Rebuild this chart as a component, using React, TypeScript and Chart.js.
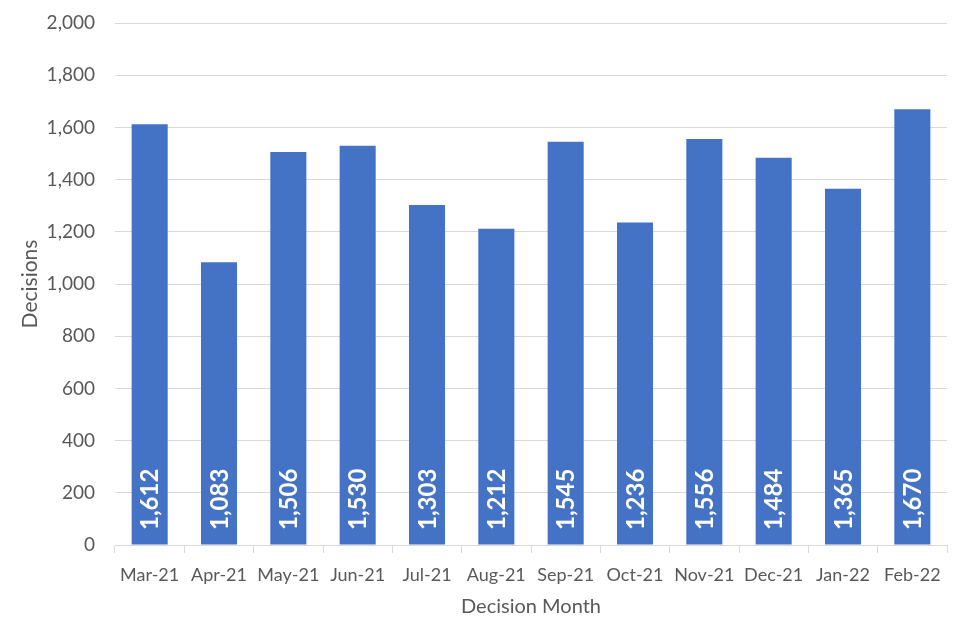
import React, { useEffect, useRef } from "react";
import { Chart, registerables } from "chart.js";

Chart.register(...registerables);

const months = ["Mar-21", "Apr-21", "May-21", "Jun-21", "Jul-21", "Aug-21", "Sep-21", "Oct-21", "Nov-21", "Dec-21", "Jan-22", "Feb-22"];
const decisions = [1612, 1083, 1506, 1530, 1303, 1212, 1545, 1236, 1556, 1484, 1365, 1670];
const yTicks = [0, 200, 400, 600, 800, 1000, 1200, 1400, 1600, 1800, 2000];

const FONT = "Lato, 'Open Sans', sans-serif";
const fmt = (v: number) => v.toLocaleString("en-US");

const labelPlugin = {
  id: "barLabels",
  afterDatasetsDraw(chart: any) {
    const ctx = chart.ctx;
    const meta = chart.getDatasetMeta(0);
    const yScale = chart.scales.y;
    const base = yScale.getPixelForValue(0);
    ctx.save();
    ctx.fillStyle = "#ffffff";
    ctx.font = `bold 24px ${FONT}`;
    ctx.textAlign = "left";
    ctx.textBaseline = "middle";
    meta.data.forEach((bar: any, i: number) => {
      ctx.save();
      ctx.translate(bar.x, base - 15);
      ctx.rotate(-Math.PI / 2);
      ctx.fillText(fmt(decisions[i]), 0, 1);
      ctx.restore();
    });
    ctx.restore();
  },
};

export default function App() {
  const ref = useRef<HTMLCanvasElement>(null);
  useEffect(() => {
    if (!ref.current) return;
    const chart = new Chart(ref.current, {
      type: "bar",
      data: {
        labels: months,
        datasets: [
          {
            data: decisions,
            backgroundColor: "#4472C4",
            categoryPercentage: 1,
            barPercentage: 0.52,
          },
        ],
      },
      options: {
        responsive: false,
        animation: false,
        layout: { padding: { top: 23, right: 13, bottom: 10, left: 0 } },
        plugins: { legend: { display: false }, tooltip: { enabled: false } },
        scales: {
          x: {
            offset: true,
            grid: {
              offset: true,
              drawOnChartArea: false,
              drawTicks: true,
              tickLength: 8,
              color: "#d9d9d9",
            },
            border: { display: true, color: "#d9d9d9" },
            ticks: { color: "#595959", font: { family: FONT, size: 18 }, padding: 11, maxRotation: 0 },
            title: {
              display: true,
              text: "Decision Month",
              color: "#595959",
              font: { family: FONT, size: 20 },
              padding: { top: 0, bottom: 11 },
            },
            afterFit(scale: any) {
              scale.height = 85;
            },
          },
          y: {
            min: 0,
            max: 2000,
            afterBuildTicks(scale: any) {
              scale.ticks = yTicks.map((v) => ({ value: v }));
            },
            grid: { color: "#d9d9d9", drawTicks: false },
            border: { display: false },
            ticks: {
              color: "#595959",
              font: { family: FONT, size: 19 },
              padding: 20,
              callback: (v: any) => fmt(Number(v)),
            },
            title: {
              display: true,
              text: "Decisions",
              color: "#595959",
              font: { family: FONT, size: 21 },
              padding: { top: 18, bottom: 0 },
            },
            afterFit(scale: any) {
              scale.width = 115;
              scale.paddingTop = 0;
              scale.paddingBottom = 0;
            },
          },
        },
      },
      plugins: [labelPlugin],
    });
    return () => chart.destroy();
  }, []);
  return (
    <div style={{ position: "absolute", left: 0, top: 0, width: 960, height: 640, background: "#fff" }}>
      <canvas ref={ref} width={960} height={640} />
    </div>
  );
}
